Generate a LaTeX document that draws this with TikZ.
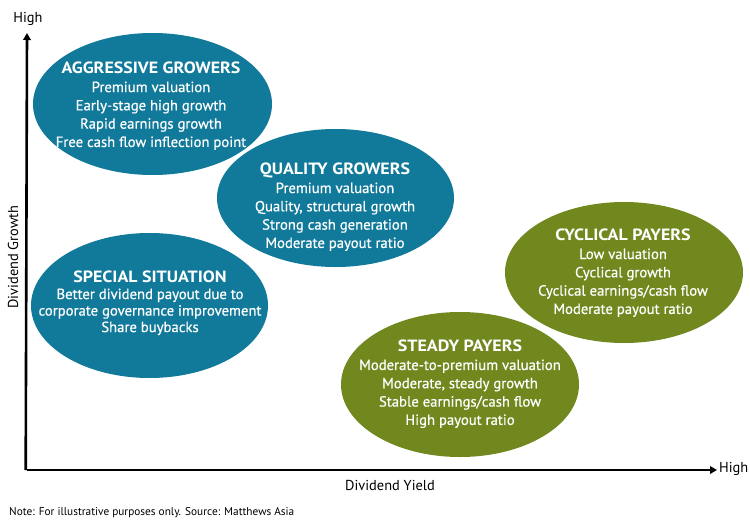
\documentclass[tikz,border=0pt]{standalone}
\usepackage{fontspec}
\setmainfont{PT Sans}
\newfontfamily\ttlfont[FakeStretch=1.1]{PT Sans Bold}
\newfontfamily\bodyfont[FakeBold=0.6]{PT Sans}
\usetikzlibrary{shapes.geometric,arrows.meta}
\definecolor{tealblue}{RGB}{17,121,153}
\definecolor{olive}{RGB}{112,136,30}
\tikzset{
  blob/.style={ellipse, inner sep=0pt, draw=none},
  blueblob/.style={blob, fill=tealblue},
  greenblob/.style={blob, fill=olive},
  blobtext/.style={text=white, align=center, inner sep=0pt, font=\bodyfont\fontsize{14.7}{18.3}\selectfont},
  axis/.style={line width=2.6pt, -{Triangle[length=7pt,width=7.5pt]}},
  lbl/.style={inner sep=0pt, font=\fontsize{14.4}{16}\selectfont}
}
\newcommand{\ttl}[1]{{\ttlfont\fontsize{16.3}{19}\selectfont #1}}
\begin{document}
\begin{tikzpicture}[x=1pt,y=-1pt]
\useasboundingbox (0,0) rectangle (750,530);
% axes
\coordinate (origin) at (27,470);
\coordinate (ytip) at (27,33);
\coordinate (xtip) at (717,470);
\draw[axis] ([xshift=-1.3pt]origin) -- (ytip);
\draw[axis] (origin) -- (xtip);
\node[lbl, anchor=south] (yhigh) at (28,26) {High};
\node[lbl, anchor=west] (xhigh) at (719,469) {High};
\node[lbl, rotate=90] (ylab) at (13,257) {Dividend Growth};
\node[lbl] (xlab) at (390,485) {Dividend Yield};
\node[inner sep=0pt, anchor=west, font=\fontsize{11.3}{13}\selectfont] (note) at (9,513) {Note: For illustrative purposes only. Source: Matthews Asia};
% ellipses
\node[blueblob, minimum width=239pt, minimum height=142pt] (agg) at (152.5,104) {};
\node[blueblob, minimum width=237pt, minimum height=138pt] (qual) at (335.5,198) {};
\node[blueblob, minimum width=237pt, minimum height=145pt] (spec) at (149.5,305.5) {};
\node[greenblob, minimum width=238pt, minimum height=141pt] (cyc) at (624,272.5) {};
\node[greenblob, minimum width=238pt, minimum height=145pt] (stead) at (460,384.5) {};
% texts
\node[blobtext] (aggt) at (151,106) {\ttl{AGGRESSIVE GROWERS}\\Premium valuation\\Early-stage high growth\\Rapid earnings growth\\Free cash flow inflection point};
\node[blobtext] (qualt) at (335,207) {\ttl{QUALITY GROWERS}\\Premium valuation\\Quality, structural growth\\Strong cash generation\\Moderate payout ratio};
\node[blobtext, font=\bodyfont\fontsize{14.7}{16.5}\selectfont] (spect) at (150,303) {\ttl{SPECIAL SITUATION}\\Better dividend payout due to\\corporate governance improvement\\Share buybacks};
\node[blobtext] (cyct) at (623,273) {\ttl{CYCLICAL PAYERS}\\Low valuation\\Cyclical growth\\Cyclical earnings/cash flow\\Moderate payout ratio};
\node[blobtext] (steadt) at (460,384) {\ttl{STEADY PAYERS}\\Moderate-to-premium valuation\\Moderate, steady growth\\Stable earnings/cash flow\\High payout ratio};
\end{tikzpicture}
\end{document}
